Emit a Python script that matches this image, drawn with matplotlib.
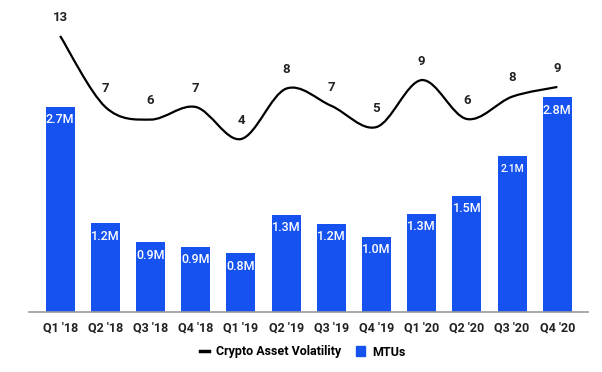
import matplotlib
matplotlib.use("Agg")
import matplotlib.pyplot as plt
from matplotlib.path import Path
from matplotlib.patches import PathPatch
from matplotlib.lines import Line2D
from matplotlib.patches import Patch
import numpy as np

plt.rcParams['font.family'] = ['Roboto', 'DejaVu Sans']

quarters = ["Q1 '18", "Q2 '18", "Q3 '18", "Q4 '18", "Q1 '19", "Q2 '19",
            "Q3 '19", "Q4 '19", "Q1 '20", "Q2 '20", "Q3 '20", "Q4 '20"]
mtus = [2.7, 1.17, 0.92, 0.86, 0.77, 1.28, 1.16, 0.99, 1.29, 1.53, 2.05, 2.82]
mtu_labels = ["2.7M", "1.2M", "0.9M", "0.9M", "0.8M", "1.3M",
              "1.2M", "1.0M", "1.3M", "1.5M", "2.1M", "2.8M"]
volatility = [13, 6.8, 5.7, 6.8, 4.0, 8.4, 6.9, 5.05, 9.15, 5.75, 7.7, 8.55]
vol_labels = ["13", "7", "6", "7", "4", "8", "7", "5", "9", "6", "8", "9"]

BLUE = "#1652F0"

fig = plt.figure(figsize=(6.02, 3.72), dpi=100)
ax = fig.add_axes([29 / 602, 60 / 372, (588 - 29) / 602, 302 / 372])
x = np.arange(len(quarters))

# bars (MTUs)
bars = ax.bar(x, mtus, width=0.64, color=BLUE, zorder=2)
ax.set_ylim(0, 3.97)
ax.set_xlim(-0.69, 11.68)
for i, (b, lab) in enumerate(zip(bars, mtu_labels)):
    fs = 7.5 if lab == "2.1M" else 9
    ax.annotate(lab, (b.get_x() + b.get_width() / 2, b.get_height()),
                xytext=(0, -9.4), textcoords="offset points",
                ha="center", va="center", color="white", fontsize=fs,
                fontweight="medium", zorder=3)

ax.set_xticks(x)
ax.set_xticklabels(quarters, fontsize=9, fontweight="bold", color="#222222")
ax.tick_params(axis="x", length=0, pad=7)
ax.set_yticks([])
for s in ["top", "right", "left"]:
    ax.spines[s].set_visible(False)
ax.spines["bottom"].set_color("#999999")
ax.spines["bottom"].set_linewidth(1.2)

# volatility line on a second axis, drawn as a smooth curve
ax2 = ax.twinx()
ax2.set_ylim(-11.1, 15.27)
ax2.set_axis_off()
pts = np.column_stack([x, volatility]).astype(float)
verts = [pts[0]]
codes = [Path.MOVETO]
for i in range(len(pts) - 1):
    p0 = pts[i - 1] if i > 0 else pts[i]
    p1, p2 = pts[i], pts[i + 1]
    p3 = pts[i + 2] if i + 2 < len(pts) else pts[i + 1]
    c1 = p1 + (p2 - p0) / 6
    c2 = p2 - (p3 - p1) / 6
    verts += [c1, c2, p2]
    codes += [Path.CURVE4] * 3
ax2.add_patch(PathPatch(Path(verts, codes), fill=False, edgecolor="black",
                        linewidth=1.6, zorder=4))

for xi, v, lab in zip(x, volatility, vol_labels):
    ax2.annotate(lab, (xi, v), xytext=(0, 13.5), textcoords="offset points",
                 ha="center", va="center", fontsize=9.5, fontweight="bold",
                 color="#222222",
                 arrowprops=dict(arrowstyle="-", color="#e2e2e2", lw=0.8,
                                 shrinkA=6, shrinkB=0))

handles = [Line2D([0], [0], color="black", lw=2.5),
           Patch(color=BLUE)]
fig.legend(handles, ["Crypto Asset Volatility", "MTUs"], loc="center",
           bbox_to_anchor=(303 / 602, 1 - 352 / 372), ncol=2, frameon=False,
           fontsize=9, handlelength=0.7, handleheight=0.9, columnspacing=1.2,
           handletextpad=0.6,
           prop={"weight": "bold", "size": 9})

fig.savefig("out.png", dpi=100)
